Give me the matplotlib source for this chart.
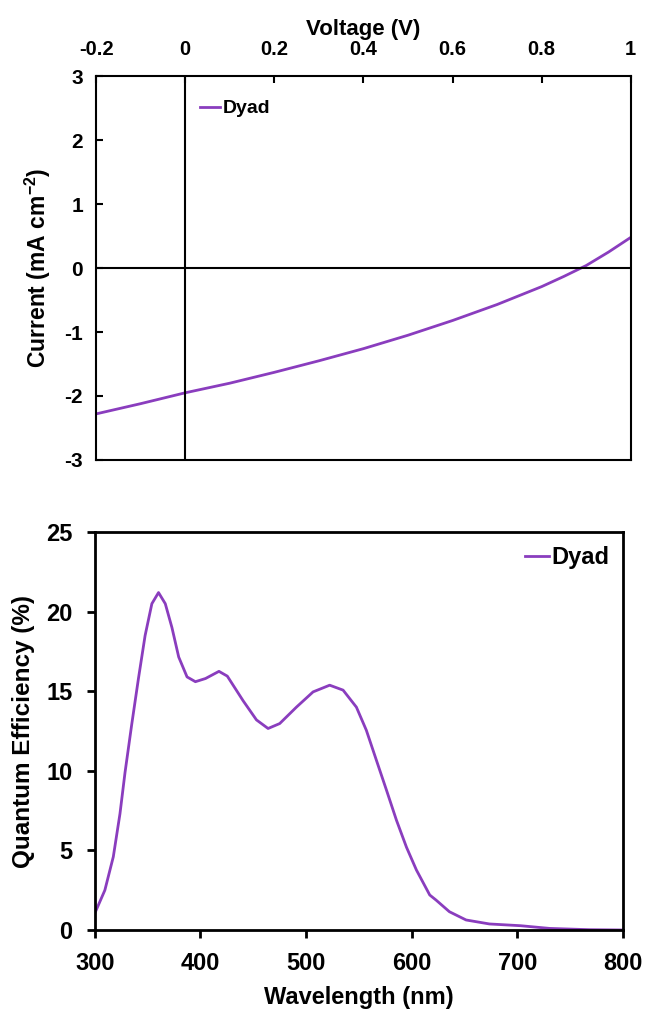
import matplotlib
matplotlib.use("Agg")
import matplotlib.pyplot as plt

plt.rcParams['font.family'] = ['Liberation Sans', 'DejaVu Sans']
plt.rcParams['font.weight'] = 'bold'
plt.rcParams['mathtext.fontset'] = 'custom'
plt.rcParams['mathtext.bf'] = 'Liberation Sans:bold'
plt.rcParams['mathtext.rm'] = 'Liberation Sans:bold'

# J-V curve
voltage = [-0.2, -0.1, 0.0, 0.1, 0.2, 0.3, 0.4, 0.5, 0.6, 0.7, 0.8, 0.85, 0.9, 0.95, 1.0]
current = [-2.28, -2.12, -1.95, -1.80, -1.63, -1.45, -1.26, -1.05, -0.82, -0.57, -0.29, -0.13, 0.04, 0.25, 0.48]

# quantum efficiency spectrum
wavelength = [300, 309.5, 317.5, 323.8, 328.6, 334.9, 341.3, 347.6, 354, 360.3, 366.7, 373,
              379.4, 387.3, 395.2, 404.8, 417.5, 425.4, 440.4, 453, 464, 475, 490.8, 506.6,
              522.3, 535, 547.6, 557, 566.5, 576, 585.5, 595, 604.4, 617, 623, 635.6, 651.4,
              673.5, 703, 730.5, 768, 800]
qe = [1.05, 2.5, 4.6, 7.3, 9.9, 12.9, 15.8, 18.5, 20.5, 21.2, 20.5, 19.0,
      17.15, 15.9, 15.6, 15.8, 16.25, 15.95, 14.4, 13.2, 12.66, 12.97, 14.0, 14.96,
      15.38, 15.07, 14.0, 12.55, 10.67, 8.8, 6.9, 5.2, 3.77, 2.2, 1.88, 1.15, 0.63,
      0.38, 0.27, 0.1, 0.02, 0.0]

color = '#8A3DBE'

fig = plt.figure(figsize=(6.45, 10.10), dpi=100)

# top panel: J-V
ax1 = fig.add_axes([0.149, 0.5446, 0.829, 0.380])
ax1.plot(voltage, current, color=color, lw=2, label='Dyad')
ax1.axhline(0, color='black', lw=1.5)
ax1.axvline(0, color='black', lw=1.5)
ax1.set_xlim(-0.2, 1.0)
ax1.set_ylim(-3, 3)
ax1.set_xticks([-0.2, 0, 0.2, 0.4, 0.6, 0.8, 1.0])
ax1.set_xticklabels(['-0.2', '0', '0.2', '0.4', '0.6', '0.8', '1'])
ax1.set_yticks([-3, -2, -1, 0, 1, 2, 3])
ax1.set_yticklabels(['-3', '-2', '-1', '0', '1', '2', '3'])
ax1.xaxis.tick_top()
ax1.xaxis.set_label_position('top')
ax1.tick_params(axis='x', direction='in', length=5, width=1.5, labelsize=14.5, pad=12)
ax1.tick_params(axis='y', direction='in', length=5, width=1.5, labelsize=15, pad=9.5)
for s in ax1.spines.values():
    s.set_linewidth(1.5)
ax1.set_xlabel('Voltage (V)', fontsize=16, fontweight='bold', labelpad=4)
ax1.set_ylabel('Current (mA cm$^{\\mathbf{-2}}$)', fontsize=16.5, fontweight='bold', labelpad=8)
ax1.legend(loc='upper left', bbox_to_anchor=(0.169, 0.974), frameon=False, fontsize=14,
           handlelength=1.0, handletextpad=0.15, borderaxespad=0.3)

# bottom panel: quantum efficiency
ax2 = fig.add_axes([0.147, 0.0792, 0.819, 0.394])
ax2.plot(wavelength, qe, color=color, lw=2, label='Dyad')
ax2.set_xlim(300, 800)
ax2.set_ylim(0, 25)
ax2.set_xticks([300, 400, 500, 600, 700, 800])
ax2.set_yticks([0, 5, 10, 15, 20, 25])
ax2.tick_params(direction='out', length=6, width=2, labelsize=17, pad=10)
for s in ax2.spines.values():
    s.set_linewidth(2)
ax2.set_xlabel('Wavelength (nm)', fontsize=17, fontweight='bold', labelpad=8)
ax2.set_ylabel('Quantum Efficiency (%)', fontsize=17.5, fontweight='bold', labelpad=8)
ax2.legend(loc='upper right', frameon=False, fontsize=17,
           handlelength=1.0, handletextpad=0.1, borderaxespad=0.2)

fig.savefig('out.png', dpi=100)
